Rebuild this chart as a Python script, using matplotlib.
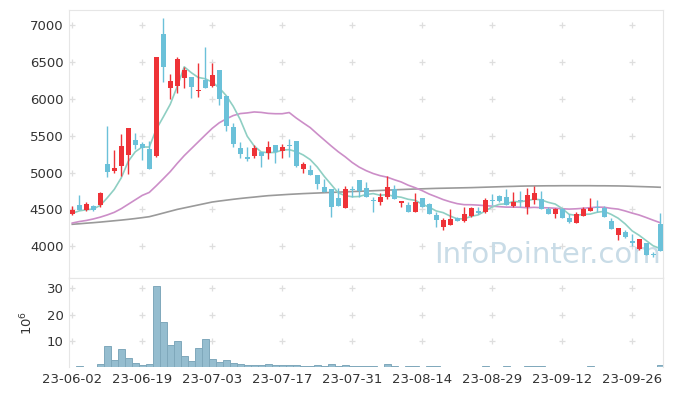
import matplotlib
matplotlib.use("Agg")
import matplotlib.pyplot as plt
import numpy as np

plt.rcParams.update({
    "font.family": "DejaVu Sans",
    "font.size": 9,
    "axes.edgecolor": "#e6e6e6",
    "xtick.color": "#333333",
    "ytick.color": "#333333",
    "axes.labelcolor": "#333333",
})

# daily candles, 23-06-02 .. 23-10-06 (KRW)
opens = [4435, 4560, 4492, 4541, 4560, 5116, 5021, 5093, 5238, 5441,
         5387, 5315, 5224, 6878, 6150, 6177, 6286, 6290, 6101, 6254,
         6177, 6390, 6037, 5617, 5332, 5210, 5230, 5278, 5261, 5369,
         5296, 5374, 5427, 5052, 5034, 4962, 4800, 4773, 4651, 4523,
         4773, 4899, 4786, 4628, 4605, 4672, 4781, 4591, 4560, 4469,
         4651, 4569, 4420, 4266, 4289, 4380, 4343, 4415, 4483, 4465,
         4628, 4686, 4667, 4551, 4620, 4537, 4628, 4637, 4506, 4438,
         4501, 4380, 4312, 4411, 4483, 4520, 4520, 4343, 4153, 4190,
         4072, 3959, 4040, 3895, 4302]
highs = [4540, 4695, 4595, 4560, 4731, 5631, 5305, 5522, 5610, 5535,
         5410, 5423, 6562, 7091, 6332, 6560, 6435, 6290, 6481, 6698,
         6481, 6390, 6037, 5667, 5414, 5350, 5373, 5278, 5423, 5369,
         5387, 5450, 5427, 5147, 5097, 4962, 4908, 4773, 4786, 4817,
         4817, 4899, 4868, 4672, 4727, 4953, 4831, 4614, 4600, 4727,
         4651, 4590, 4469, 4380, 4502, 4400, 4529, 4535, 4537, 4650,
         4705, 4695, 4773, 4737, 4755, 4786, 4817, 4755, 4529, 4520,
         4520, 4434, 4470, 4537, 4651, 4628, 4540, 4380, 4244, 4220,
         4163, 4095, 4040, 3928, 4447]
lows = [4425, 4490, 4483, 4474, 4528, 4935, 4994, 4957, 4976, 5318,
        5170, 5043, 5215, 6231, 5993, 6082, 6141, 6006, 6020, 6150,
        6155, 5915, 5567, 5342, 5193, 5160, 5193, 5071, 5179, 5125,
        5193, 5210, 5080, 4990, 4962, 4773, 4732, 4393, 4551, 4523,
        4672, 4672, 4672, 4469, 4560, 4637, 4637, 4529, 4469, 4469,
        4537, 4434, 4258, 4222, 4289, 4340, 4330, 4400, 4438, 4455,
        4560, 4605, 4560, 4537, 4529, 4438, 4574, 4506, 4438, 4380,
        4388, 4312, 4312, 4411, 4483, 4470, 4393, 4235, 4085, 4110,
        4000, 3950, 3882, 3850, 3940]
closes = [4490, 4492, 4573, 4492, 4722, 5007, 5061, 5360, 5604, 5373,
          5337, 5052, 6562, 6435, 6241, 6539, 6390, 6164, 6110, 6150,
          6318, 5997, 5635, 5391, 5251, 5188, 5332, 5230, 5342, 5274,
          5342, 5364, 5093, 5116, 4962, 4840, 4732, 4537, 4551, 4773,
          4760, 4754, 4672, 4610, 4664, 4800, 4637, 4614, 4469, 4596,
          4537, 4434, 4357, 4357, 4366, 4348, 4434, 4523, 4456, 4628,
          4620, 4618, 4560, 4605, 4614, 4695, 4727, 4506, 4438, 4501,
          4388, 4334, 4434, 4502, 4520, 4515, 4393, 4235, 4244, 4131,
          4040, 4095, 3882, 3888, 3940]

# moving averages as shown on the chart
ma5 = [4447, 4480, 4495, 4505, 4554, 4657, 4771, 4928, 5151, 5281,
       5347, 5345, 5586, 5752, 5925, 6166, 6433, 6354, 6289, 6271,
       6226, 6148, 6042, 5898, 5718, 5492, 5359, 5278, 5269, 5273,
       5304, 5310, 5283, 5238, 5175, 5075, 4949, 4837, 4724, 4687,
       4671, 4675, 4702, 4714, 4692, 4700, 4677, 4665, 4637, 4623,
       4571, 4530, 4479, 4456, 4410, 4372, 4372, 4406, 4425, 4478,
       4532, 4569, 4576, 4606, 4603, 4618, 4640, 4629, 4596, 4573,
       4512, 4433, 4419, 4432, 4436, 4461, 4473, 4433, 4381, 4304,
       4209, 4149, 4078, 4007, 3969]
ma20 = [4315, 4335, 4350, 4370, 4395, 4425, 4460, 4510, 4570, 4630,
        4690, 4730, 4820, 4915, 5012, 5124, 5229, 5322, 5415, 5508,
        5599, 5674, 5727, 5772, 5799, 5808, 5821, 5815, 5802, 5797,
        5797, 5813, 5739, 5673, 5609, 5524, 5442, 5360, 5282, 5213,
        5136, 5073, 5025, 4986, 4957, 4937, 4903, 4872, 4828, 4794,
        4754, 4708, 4671, 4633, 4603, 4578, 4564, 4563, 4558, 4551,
        4544, 4537, 4531, 4531, 4529, 4523, 4528, 4523, 4521, 4516,
        4509, 4504, 4508, 4515, 4523, 4531, 4529, 4514, 4504, 4479,
        4450, 4424, 4390, 4354, 4320]
ma_long = [4298, 4305, 4313, 4320, 4328, 4337, 4346, 4355, 4365, 4376,
           4388, 4401, 4425, 4450, 4475, 4500, 4520, 4540, 4560, 4580,
           4600, 4613, 4625, 4637, 4648, 4658, 4667, 4677, 4686, 4692,
           4698, 4704, 4709, 4714, 4718, 4722, 4726, 4730, 4734, 4738,
           4742, 4745, 4749, 4753, 4757, 4761, 4765, 4769, 4773, 4776,
           4779, 4782, 4785, 4787, 4789, 4791, 4793, 4795, 4798, 4801,
           4804, 4807, 4810, 4812, 4815, 4817, 4818, 4819, 4820, 4820,
           4821, 4821, 4821, 4821, 4821, 4820, 4820, 4819, 4818, 4816,
           4813, 4810, 4807, 4804, 4800]

# volume in millions of shares (0 = too small to show)
volume = [0, 0.4, 0, 0, 1.2, 8.0, 2.7, 7.0, 3.6, 1.6,
          0.8, 1.2, 30.6, 17.2, 8.4, 10.0, 4.2, 2.3, 7.2, 10.6,
          3.2, 2.0, 2.7, 1.6, 1.2, 0.8, 0.8, 0.8, 1.2, 0.8,
          0.8, 0.8, 0.8, 0.4, 0.4, 0.8, 0.4, 1.2, 0.4, 0.8,
          0.4, 0.4, 0.4, 0.4, 0, 1.3, 0.4, 0, 0.4, 0.4,
          0, 0.4, 0.4, 0, 0, 0, 0, 0, 0, 0.4,
          0, 0, 0.4, 0, 0, 0.4, 0.4, 0.4, 0, 0,
          0, 0, 0, 0, 0.4, 0, 0, 0, 0, 0,
          0, 0, 0, 0, 0.9]

tick_labels = ["23-06-02", "23-06-19", "23-07-03", "23-07-17", "23-07-31",
               "23-08-14", "23-08-29", "23-09-12", "23-09-26"]
price_ticks = [4000, 4500, 5000, 5500, 6000, 6500, 7000]
vol_ticks = [10, 20, 30]

UP = "#ee3237"
DOWN = "#6bc1d9"
GRID = "#dedede"

o = np.array(opens)
c = np.array(closes)
v = np.array(volume)
x = np.arange(len(c))
tick_x = np.arange(len(tick_labels)) * 10
colors = np.where(c >= o, UP, DOWN)

fig = plt.figure(figsize=(6.73, 3.96), dpi=100)
ax = fig.add_axes([0.1025, 0.298, 0.8825, 0.6767])
axv = fig.add_axes([0.1025, 0.072, 0.8825, 0.226], sharex=ax)

# grid drawn as small crosses at tick intersections
gx, gy = np.meshgrid(tick_x, price_ticks)
ax.scatter(gx.ravel(), gy.ravel(), marker="+", s=22, color=GRID, linewidths=0.9, zorder=0)
gx, gy = np.meshgrid(tick_x, vol_ticks)
axv.scatter(gx.ravel(), gy.ravel(), marker="+", s=22, color=GRID, linewidths=0.9, zorder=0)

ax.text(0.805, 0.085, "InfoPointer.com", transform=ax.transAxes, ha="center", va="center",
        fontsize=21, color="#c9dce7", zorder=1)

ax.plot(x, ma_long, color="#9a9a9a", linewidth=1.2, zorder=2)
ax.plot(x, ma20, color="#cc8ec8", linewidth=1.2, zorder=2)
ax.plot(x, ma5, color="#8fcfc3", linewidth=1.2, zorder=2)

ax.vlines(x, lows, highs, color=colors, linewidth=1.0, zorder=3)
body = np.maximum(np.abs(c - o), 14)
ax.bar(x, body, bottom=np.minimum(o, c), width=0.72, color=colors, zorder=4)

shown = v > 0
axv.bar(x[shown], v[shown], width=1.0, color="#95bdcf", edgecolor="#7fa8bb", linewidth=0.7, zorder=2)

ax.set_xlim(-0.47, 84.4)
ax.set_ylim(3570, 7203)
ax.set_yticks(price_ticks)
ax.tick_params(length=0, pad=4, labelsize=9.5)
ax.tick_params(axis="x", labelbottom=False)

axv.set_ylim(0, 33.8)
axv.set_yticks(vol_ticks)
axv.set_xticks(tick_x)
axv.set_xticklabels(tick_labels)
axv.tick_params(length=0, pad=4, labelsize=9.5)
axv.set_ylabel("$10^6$", fontsize=9.5, labelpad=8)
axv.spines["bottom"].set_visible(False)

fig.savefig("out.png", dpi=100, facecolor="white")
